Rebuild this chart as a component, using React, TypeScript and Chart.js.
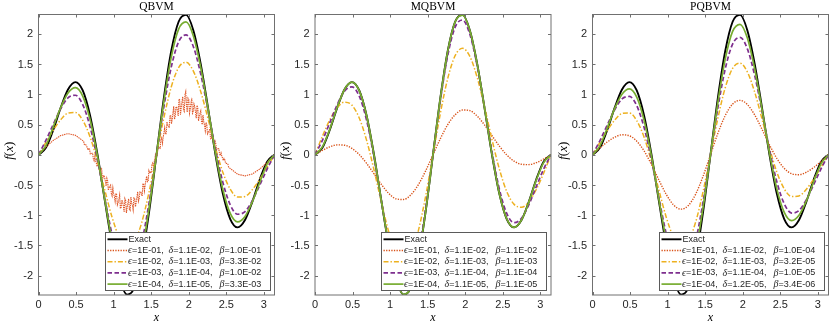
import React, { useEffect, useRef } from "react";
import { Chart, registerables } from "chart.js";
Chart.register(...registerables);

// ---------- data ----------
const XG = [0, 0.0982, 0.1963, 0.2945, 0.3927, 0.4909, 0.589, 0.6872, 0.7854, 0.8836, 0.9817, 1.0799, 1.1781, 1.2763, 1.3744, 1.4726, 1.5708, 1.669, 1.7671, 1.8653, 1.9635, 2.0617, 2.1598, 2.258, 2.3562, 2.4544, 2.5525, 2.6507, 2.7489, 2.8471, 2.9452, 3.0434, 3.1416];

const EXACT = [0, 0.114, 0.409, 0.775, 1.080, 1.202, 1.063, 0.646, 0, -0.764, -1.499, -2.057, -2.313, -2.200, -1.717, -0.941, 0, 0.941, 1.717, 2.200, 2.313, 2.057, 1.499, 0.764, 0, -0.646, -1.063, -1.202, -1.080, -0.775, -0.409, -0.114, 0];

// QBVM (noisy eps=1E-01 curve is sampled densely)
const QB_E1_X = [0, 0.0982, 0.1963, 0.2945, 0.3927, 0.4909,
  0.60, 0.61, 0.62, 0.63, 0.64, 0.65, 0.66, 0.67, 0.68, 0.69,
  0.70, 0.71, 0.72, 0.73, 0.74, 0.75, 0.76, 0.77, 0.78, 0.79,
  0.80, 0.81, 0.82, 0.83, 0.84, 0.85, 0.86, 0.87, 0.88, 0.89,
  0.90, 0.91, 0.92, 0.93, 0.94, 0.95, 0.96, 0.97, 0.98, 0.99,
  1.00, 1.01, 1.02, 1.03, 1.04, 1.05, 1.06, 1.07, 1.08, 1.09,
  1.10, 1.11, 1.12, 1.13, 1.14, 1.15, 1.16, 1.17, 1.18, 1.19,
  1.20, 1.21, 1.22, 1.23, 1.24, 1.25, 1.26, 1.27, 1.28, 1.29,
  1.30, 1.31, 1.32, 1.33, 1.34, 1.35, 1.36, 1.37, 1.38, 1.39,
  1.40, 1.41, 1.42, 1.43, 1.44, 1.45, 1.46, 1.47, 1.48, 1.49,
  1.50, 1.51, 1.52, 1.53, 1.54, 1.55, 1.56, 1.57, 1.58, 1.59,
  1.60, 1.61, 1.62, 1.63, 1.64, 1.65, 1.66, 1.67, 1.68, 1.69,
  1.70, 1.71, 1.72, 1.73, 1.74, 1.75, 1.76, 1.77, 1.78, 1.79,
  1.80, 1.81, 1.82, 1.83, 1.84, 1.85, 1.86, 1.87, 1.88, 1.89,
  1.90, 1.91, 1.92, 1.93, 1.94, 1.95, 1.96, 1.97, 1.98, 1.99,
  2.00, 2.01, 2.02, 2.03, 2.04, 2.05, 2.06, 2.07, 2.08, 2.09,
  2.10, 2.11, 2.12, 2.13, 2.14, 2.15, 2.16, 2.17, 2.18, 2.19,
  2.20, 2.21, 2.22, 2.23, 2.24, 2.25, 2.26, 2.27, 2.28, 2.29,
  2.30, 2.31, 2.32, 2.33, 2.34, 2.35, 2.36, 2.37, 2.38, 2.39,
  2.40, 2.41, 2.42, 2.43, 2.44, 2.45, 2.46, 2.47, 2.48, 2.49,
  2.50, 2.51, 2.52, 2.53, 2.54,
  2.6507, 2.7489, 2.8471, 2.9452, 3.0434, 3.1416];
const QB_E1 = [0, 0.126, 0.237, 0.317, 0.350, 0.322,
  0.224, 0.171, 0.158, 0.165, 0.145, 0.113, 0.078, 0.110, 0.090, 0.014,
  0.020, 0.024, 0.029, -0.068, -0.100, -0.033, -0.100, -0.137, -0.194, -0.138,
  -0.167, -0.267, -0.266, -0.254, -0.235, -0.368, -0.380, -0.339, -0.375, -0.437,
  -0.519, -0.390, -0.429, -0.588, -0.546, -0.521, -0.503, -0.646, -0.684, -0.553,
  -0.646, -0.690, -0.769, -0.638, -0.661, -0.828, -0.794, -0.738, -0.667, -0.890,
  -0.872, -0.747, -0.777, -0.856, -0.946, -0.724, -0.754, -0.964, -0.874, -0.795,
  -0.729, -0.903, -0.921, -0.699, -0.801, -0.831, -0.909, -0.713, -0.719, -0.861,
  -0.788, -0.700, -0.611, -0.769, -0.728, -0.611, -0.611, -0.644, -0.685, -0.486,
  -0.476, -0.596, -0.498, -0.422, -0.354, -0.446, -0.434, -0.265, -0.302, -0.289,
  -0.304, -0.162, -0.137, -0.193, -0.129, -0.053, 0.023, -0.051, -0.005, 0.095,
  0.117, 0.115, 0.107, 0.259, 0.283, 0.193, 0.286, 0.367, 0.445, 0.339,
  0.349, 0.545, 0.488, 0.487, 0.445, 0.637, 0.658, 0.511, 0.588, 0.692,
  0.803, 0.587, 0.631, 0.795, 0.788, 0.723, 0.643, 0.923, 0.906, 0.657,
  0.783, 0.879, 0.960, 0.741, 0.716, 0.992, 1.043, 0.814, 0.704, 0.938,
  0.916, 0.689, 0.757, 0.849, 0.940, 0.686, 0.710, 0.838, 0.796, 0.703,
  0.604, 0.816, 0.775, 0.560, 0.636, 0.686, 0.724, 0.540, 0.500, 0.657,
  0.544, 0.492, 0.399, 0.533, 0.498, 0.345, 0.366, 0.398, 0.429, 0.264,
  0.258, 0.308, 0.268, 0.208, 0.141, 0.226, 0.186, 0.079, 0.097, 0.103,
  0.099, 0.016, -0.014, 0.031, -0.023, -0.053, -0.094, -0.063, -0.083, -0.141,
  -0.143, -0.146, -0.149, -0.202, -0.215,
  -0.322, -0.350, -0.317, -0.237, -0.126, 0];
const QB_E2 = [0, 0.206, 0.405, 0.577, 0.689, 0.699, 0.570, 0.292, -0.115, -0.590, -1.043, -1.383, -1.530, -1.443, -1.120, -0.612, 0, 0.612, 1.120, 1.443, 1.530, 1.383, 1.043, 0.590, 0.115, -0.292, -0.570, -0.699, -0.689, -0.577, -0.405, -0.206, 0];
const QB_E3 = [0, 0.236, 0.502, 0.758, 0.942, 0.984, 0.828, 0.459, -0.088, -0.727, -1.334, -1.787, -1.983, -1.869, -1.450, -0.792, 0, 0.792, 1.450, 1.869, 1.983, 1.787, 1.334, 0.727, 0.088, -0.459, -0.828, -0.984, -0.942, -0.758, -0.502, -0.236, 0];
const QB_E4 = [0, 0.150, 0.460, 0.778, 1.020, 1.110, 0.970, 0.578, -0.029, -0.751, -1.444, -1.966, -2.197, -2.078, -1.615, -0.883, 0, 0.883, 1.615, 2.078, 2.197, 1.966, 1.444, 0.751, 0.029, -0.578, -0.970, -1.110, -1.020, -0.778, -0.460, -0.150, 0];

// MQBVM
const MQ_E1 = [0, 0.072, 0.131, 0.163, 0.158, 0.106, 0.003, -0.143, -0.316, -0.491, -0.639, -0.729, -0.740, -0.662, -0.498, -0.267, 0, 0.267, 0.498, 0.662, 0.740, 0.729, 0.639, 0.491, 0.316, 0.143, -0.003, -0.106, -0.158, -0.163, -0.131, -0.072, 0];
const MQ_E2 = [0, 0.305, 0.575, 0.777, 0.870, 0.821, 0.608, 0.238, -0.250, -0.786, -1.275, -1.626, -1.761, -1.639, -1.263, -0.688, 0, 0.688, 1.263, 1.639, 1.761, 1.626, 1.275, 0.786, 0.250, -0.238, -0.608, -0.821, -0.870, -0.777, -0.575, -0.305, 0];
const MQ_E3 = [0, 0.237, 0.528, 0.825, 1.052, 1.124, 0.970, 0.570, -0.042, -0.767, -1.465, -1.992, -2.229, -2.111, -1.643, -0.899, 0, 0.899, 1.643, 2.111, 2.229, 1.992, 1.465, 0.767, 0.042, -0.570, -0.970, -1.124, -1.052, -0.825, -0.528, -0.237, 0];
const MQ_E4 = [0, 0.130, 0.420, 0.780, 1.080, 1.200, 1.060, 0.645, -0.005, -0.765, -1.497, -2.055, -2.310, -2.198, -1.715, -0.940, 0, 0.940, 1.715, 2.198, 2.310, 2.055, 1.497, 0.765, 0.005, -0.645, -1.060, -1.200, -1.080, -0.780, -0.420, -0.130, 0];

// PQBVM
const PQ_E1 = [0, 0.110, 0.210, 0.289, 0.330, 0.314, 0.225, 0.062, -0.163, -0.417, -0.656, -0.831, -0.900, -0.839, -0.649, -0.354, 0, 0.354, 0.649, 0.839, 0.900, 0.831, 0.656, 0.417, 0.163, -0.062, -0.225, -0.314, -0.330, -0.289, -0.210, -0.110, 0];
const PQ_E2 = [0, 0.204, 0.401, 0.571, 0.682, 0.692, 0.564, 0.289, -0.114, -0.584, -1.033, -1.369, -1.515, -1.429, -1.109, -0.606, 0, 0.606, 1.109, 1.429, 1.515, 1.369, 1.033, 0.584, 0.114, -0.289, -0.564, -0.692, -0.682, -0.571, -0.401, -0.204, 0];
const PQ_E3 = [0, 0.231, 0.492, 0.743, 0.923, 0.964, 0.811, 0.450, -0.087, -0.712, -1.308, -1.751, -1.943, -1.831, -1.421, -0.776, 0, 0.776, 1.421, 1.831, 1.943, 1.751, 1.308, 0.712, 0.087, -0.450, -0.811, -0.964, -0.923, -0.743, -0.492, -0.231, 0];
const PQ_E4 = [0, 0.147, 0.442, 0.764, 1.002, 1.090, 0.953, 0.568, -0.029, -0.737, -1.418, -1.930, -2.158, -2.041, -1.586, -0.867, 0, 0.867, 1.586, 2.041, 2.158, 1.930, 1.418, 0.737, 0.029, -0.568, -0.953, -1.090, -1.002, -0.764, -0.442, -0.147, 0];

const X_TICKS = [0, 0.5, 1, 1.5, 2, 2.5, 3];
const Y_TICKS = [-2, -1.5, -1, -0.5, 0, 0.5, 1, 1.5, 2];
const X_MIN = 0, X_MAX = 3.1416, Y_MIN = -2.32, Y_MAX = 2.32;

const TITLES = ["QBVM", "MQBVM", "PQBVM"];
const EPS = ["1E-01", "1E-02", "1E-03", "1E-04"];
const QB_DELTA = ["1.1E-02", "1.1E-03", "1.1E-04", "1.1E-05"];
const QB_BETA = ["1.0E-01", "3.3E-02", "1.0E-02", "3.3E-03"];
const MQ_DELTA = ["1.1E-02", "1.1E-03", "1.1E-04", "1.1E-05"];
const MQ_BETA = ["1.1E-02", "1.1E-03", "1.1E-04", "1.1E-05"];
const PQ_DELTA = ["1.1E-02", "1.1E-03", "1.1E-04", "1.2E-05"];
const PQ_BETA = ["1.0E-04", "3.2E-05", "1.0E-05", "3.4E-06"];

// ---------- styles ----------
const STYLES = [
  { color: "#000000", width: 1.9, dash: [] as number[] },
  { color: "#D95319", width: 1.4, dash: [1.3, 1.3] },
  { color: "#EDB120", width: 1.5, dash: [5, 2, 1.4, 2] },
  { color: "#7E2F8E", width: 1.7, dash: [4.5, 2.5] },
  { color: "#77AC30", width: 1.7, dash: [] as number[] },
];
const NOISY_STYLE = { color: "#E0582A", width: 1.1, dash: [1.4, 0.8] };

const SANS = '"Liberation Sans", Arial, sans-serif';
const SERIF = '"Liberation Serif", "DejaVu Serif", serif';

type Series = { x: number[]; y: number[]; dense?: boolean };
type PanelCfg = {
  title: string;
  left: number;
  w: number;
  pad: { left: number; right: number; top: number; bottom: number };
  series: Series[];
  delta: string[];
  beta: string[];
};

const PANELS: PanelCfg[] = [
  {
    title: TITLES[0], left: 0, w: 277,
    pad: { left: 38.5, right: 2.5, top: 14.5, bottom: 27 },
    series: [{ x: XG, y: EXACT }, { x: QB_E1_X, y: QB_E1, dense: true }, { x: XG, y: QB_E2 }, { x: XG, y: QB_E3 }, { x: XG, y: QB_E4 }],
    delta: QB_DELTA, beta: QB_BETA,
  },
  {
    title: TITLES[1], left: 277, w: 277,
    pad: { left: 38, right: 3, top: 14.5, bottom: 27 },
    series: [{ x: XG, y: EXACT }, { x: XG, y: MQ_E1 }, { x: XG, y: MQ_E2 }, { x: XG, y: MQ_E3 }, { x: XG, y: MQ_E4 }],
    delta: MQ_DELTA, beta: MQ_BETA,
  },
  {
    title: TITLES[2], left: 554, w: 276,
    pad: { left: 38.5, right: 1.5, top: 14.5, bottom: 27 },
    series: [{ x: XG, y: EXACT }, { x: XG, y: PQ_E1 }, { x: XG, y: PQ_E2 }, { x: XG, y: PQ_E3 }, { x: XG, y: PQ_E4 }],
    delta: PQ_DELTA, beta: PQ_BETA,
  },
];

function drawSeg(ctx: CanvasRenderingContext2D, x: number, y: number, parts: [string, string][]) {
  let cx = x;
  for (const [font, txt] of parts) {
    ctx.font = font;
    ctx.fillText(txt, cx, y);
    cx += ctx.measureText(txt).width;
  }
  return cx;
}

function makeDecor(cfg: PanelCfg) {
  return {
    id: "decor",
    afterDraw(chart: any) {
      const ctx: CanvasRenderingContext2D = chart.ctx;
      const a = chart.chartArea;
      const sx = chart.scales.x;
      const sy = chart.scales.y;
      ctx.save();
      // frame
      ctx.strokeStyle = "#707070";
      ctx.lineWidth = 1;
      ctx.setLineDash([]);
      ctx.strokeRect(a.left, a.top, a.right - a.left, a.bottom - a.top);
      // inward ticks on all four sides
      ctx.beginPath();
      for (const v of X_TICKS) {
        const px = Math.round(sx.getPixelForValue(v)) + 0.5;
        ctx.moveTo(px, a.bottom); ctx.lineTo(px, a.bottom - 3);
        ctx.moveTo(px, a.top); ctx.lineTo(px, a.top + 3);
      }
      for (const v of Y_TICKS) {
        const py = Math.round(sy.getPixelForValue(v)) + 0.5;
        ctx.moveTo(a.left, py); ctx.lineTo(a.left + 3, py);
        ctx.moveTo(a.right, py); ctx.lineTo(a.right - 3, py);
      }
      ctx.stroke();
      // tick labels
      ctx.fillStyle = "#262626";
      ctx.font = "11px " + SANS;
      ctx.textAlign = "center";
      ctx.textBaseline = "middle";
      for (const v of X_TICKS) ctx.fillText(String(v), sx.getPixelForValue(v), a.bottom + 10);
      ctx.textAlign = "right";
      for (const v of Y_TICKS) ctx.fillText(String(v), a.left - 5.5, sy.getPixelForValue(v) + 0.5);
      // title
      ctx.fillStyle = "#000";
      ctx.textAlign = "center";
      ctx.textBaseline = "alphabetic";
      ctx.font = "11.5px " + SERIF;
      ctx.fillText(cfg.title, (a.left + a.right) / 2, 10);
      // x label
      ctx.font = "italic 12px " + SERIF;
      ctx.fillText("x", (a.left + a.right) / 2, 320.5);
      // y label
      ctx.save();
      ctx.translate(a.left - 26, (a.top + a.bottom) / 2 - 4);
      ctx.rotate(-Math.PI / 2);
      ctx.textAlign = "left";
      ctx.textBaseline = "alphabetic";
      const it = "italic 13px " + SERIF;
      const up = "13px " + SERIF;
      let tw = 0;
      const yparts: [string, string][] = [[it, "f"], [up, "("], [it, "x"], [up, ")"]];
      for (const [f, t] of yparts) { ctx.font = f; tw += ctx.measureText(t).width; }
      drawSeg(ctx, -tw / 2, 0, yparts);
      ctx.restore();

      // legend
      const lw = 165, lh = 58;
      const lx = Math.round(a.right - 5 - lw) + 0.5;
      const ly = Math.round(a.bottom - 5 - lh) + 0.5;
      ctx.fillStyle = "#ffffff";
      ctx.fillRect(lx, ly, lw, lh);
      ctx.strokeStyle = "#5a5a5a";
      ctx.lineWidth = 1;
      ctx.strokeRect(lx, ly, lw, lh);
      const labelsFont = "9px " + SANS;
      const greek = "italic 10px " + SERIF;
      for (let k = 0; k < 5; k++) {
        const y = ly + 6.8 + k * 11.2;
        const st = STYLES[k];
        ctx.save();
        ctx.strokeStyle = st.color;
        ctx.lineWidth = st.width;
        ctx.setLineDash(st.dash);
        ctx.beginPath();
        ctx.moveTo(lx + 2, y);
        ctx.lineTo(lx + 22, y);
        ctx.stroke();
        ctx.restore();
        ctx.fillStyle = "#262626";
        ctx.textAlign = "left";
        ctx.textBaseline = "middle";
        if (k === 0) {
          ctx.font = labelsFont;
          ctx.fillText("Exact", lx + 23, y);
        } else {
          drawSeg(ctx, lx + 22.5, y, [[greek, "\u03F5"], [labelsFont, "=" + EPS[k - 1] + ","]]);
          drawSeg(ctx, lx + 63, y, [[greek, "\u03B4"], [labelsFont, "=" + cfg.delta[k - 1] + ","]]);
          drawSeg(ctx, lx + 114, y, [[greek, "\u03B2"], [labelsFont, "=" + cfg.beta[k - 1]]]);
        }
      }
      ctx.restore();
    },
  };
}

function Panel({ cfg }: { cfg: PanelCfg }) {
  const ref = useRef<HTMLCanvasElement>(null);
  useEffect(() => {
    if (!ref.current) return;
    const datasets = cfg.series.map((s, i) => {
      const st = s.dense ? NOISY_STYLE : STYLES[i];
      return {
        data: s.x.map((x, j) => ({ x, y: s.y[j] })),
        borderColor: st.color,
        borderWidth: st.width,
        borderDash: st.dash,
        pointRadius: 0,
        fill: false,
        cubicInterpolationMode: s.dense ? "default" : "monotone",
        tension: s.dense ? 0 : 0.4,
        order: 5 - i,
      };
    });
    const chart = new Chart(ref.current, {
      type: "line",
      data: { datasets } as any,
      options: {
        responsive: false,
        animation: false,
        devicePixelRatio: 1,
        events: [],
        layout: { padding: cfg.pad },
        plugins: { legend: { display: false }, tooltip: { enabled: false }, title: { display: false } },
        scales: {
          x: { type: "linear", min: X_MIN, max: X_MAX, display: false },
          y: { type: "linear", min: Y_MIN, max: Y_MAX, display: false },
        },
      } as any,
      plugins: [makeDecor(cfg)],
    });
    return () => chart.destroy();
  }, []);
  return (
    <canvas
      ref={ref}
      width={cfg.w}
      height={322}
      style={{ position: "absolute", left: cfg.left, top: 0, width: cfg.w, height: 322 }}
    />
  );
}

export default function App() {
  return (
    <div style={{ position: "fixed", left: 0, top: 0, width: 830, height: 322, background: "#ffffff", overflow: "hidden" }}>
      {PANELS.map((p, i) => (
        <Panel key={i} cfg={p} />
      ))}
    </div>
  );
}
